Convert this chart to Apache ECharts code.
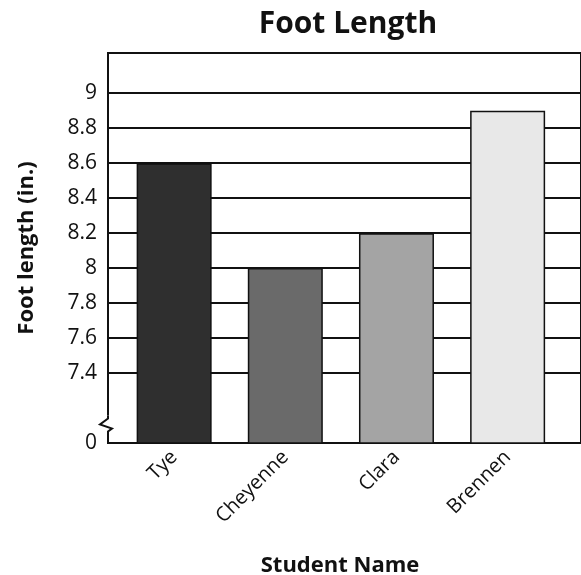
<!DOCTYPE html>
<html lang="en" style="height: 100%">
<head>
    <meta charset="utf-8">
</head>
<body style="height: 100%; margin: 0; background: #fff">
    <div id="container" style="width: 581px; height: 575px"></div>
    <script src="https://cdn.jsdelivr.net/npm/echarts@6/dist/echarts.min.js"></script>
    <script>
        // data
        var students = ['Tye', 'Cheyenne', 'Clara', 'Brennen'];
        var footLength = [8.6, 8.0, 8.2, 8.9];
        var barColors = ['#2f2f2f', '#6a6a6a', '#a4a4a4', '#e8e8e8'];
        // y tick labels shown above the break; axis bottom (7.0) is drawn as "0"
        var yTicks = [7.4, 7.6, 7.8, 8, 8.2, 8.4, 8.6, 8.8, 9];
        var breakValue = 7.0;
        var yTop = 9.23;

        var font = '"Open Sans", "Noto Sans", sans-serif';
        var dom = document.getElementById('container');
        var myChart = echarts.init(dom, null, { renderer: 'canvas' });

        function isTick(val) {
            for (var i = 0; i < yTicks.length; i++) {
                if (Math.abs(val - yTicks[i]) < 1e-6) return true;
            }
            return false;
        }

        // gridline colours: only the labelled ticks get a line (plus top edge)
        var lineColors = [];
        for (var i = 0; i <= 11; i++) {
            lineColors.push(isTick(breakValue + 0.2 * i) ? '#111' : 'rgba(0,0,0,0)');
        }
        lineColors.push('#111');

        var option = {
            animation: false,
            title: [{
                text: 'Foot Length',
                left: 343,
                textAlign: 'center',
                top: 4,
                textStyle: { fontFamily: font, fontSize: 30, fontWeight: 'bold', color: '#111' }
            }, {
                text: 'Student Name',
                left: 335,
                textAlign: 'center',
                top: 550,
                textStyle: { fontFamily: font, fontSize: 22, fontWeight: 'bold', color: '#111' }
            }],
            grid: {
                left: 108,
                top: 53,
                bottom: 132,
                right: -10,
                show: true,
                borderColor: '#111',
                borderWidth: 2,
                backgroundColor: '#fff'
            },
            xAxis: {
                type: 'value',
                min: -0.595,
                max: 3.66,
                axisLine: { show: true, onZero: false, lineStyle: { color: '#111', width: 2 } },
                axisTick: { show: false },
                splitLine: { show: false },
                axisLabel: {
                    customValues: [0, 1, 2, 3],
                    formatter: function (val) { return students[Math.round(val)]; },
                    rotate: 45,
                    margin: 11,
                    fontFamily: font,
                    fontSize: 20,
                    color: '#111'
                }
            },
            yAxis: {
                type: 'value',
                min: breakValue,
                max: yTop,
                interval: 0.2,
                name: 'Foot length (in.)',
                nameLocation: 'middle',
                nameGap: 70,
                nameTextStyle: { fontFamily: font, fontSize: 22, fontWeight: 'bold', color: '#111' },
                axisLine: { show: true, onZero: false, lineStyle: { color: '#111', width: 2 } },
                axisTick: { show: false },
                splitLine: { show: true, lineStyle: { color: lineColors, width: 2 } },
                axisLabel: {
                    margin: 11,
                    fontFamily: font,
                    fontSize: 21,
                    color: '#111',
                    formatter: function (val) {
                        if (Math.abs(val - breakValue) < 1e-6) return '0';
                        return isTick(val) ? String(Math.round(val * 10) / 10) : '';
                    }
                }
            },
            series: [{
                type: 'bar',
                barWidth: 75,
                data: footLength.map(function (y, i) {
                    return {
                        value: [i, y],
                        itemStyle: { color: barColors[i], borderColor: '#111', borderWidth: 1.5 }
                    };
                }),
                z: 3
            }]
        };

        myChart.setOption(option);

        // zigzag break mark on the y axis line
        var p = myChart.convertToPixel({ gridIndex: 0 }, [-0.595, breakValue + 0.1]);
        var x0 = p[0], y0 = p[1];
        myChart.setOption({
            graphic: [{
                type: 'rect',
                shape: { x: x0 - 2, y: y0 - 10, width: 4, height: 18 },
                style: { fill: '#fff' },
                z: 100
            }, {
                type: 'polyline',
                shape: { points: [[x0, y0 - 10], [x0, y0 - 7], [x0 - 8, y0 - 1], [x0 + 4, y0 + 3], [x0, y0 + 6], [x0, y0 + 9]] },
                style: { stroke: '#111', lineWidth: 2, fill: null },
                z: 101
            }]
        });
    </script>
</body>
</html>
